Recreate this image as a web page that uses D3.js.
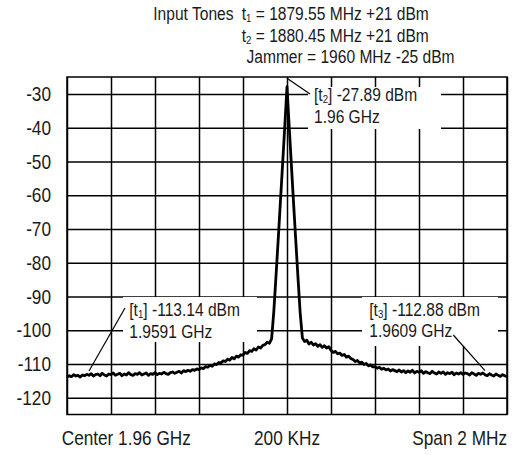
<!DOCTYPE html>
<html>
<head>
<meta charset="utf-8">
<script src="https://cdn.jsdelivr.net/npm/d3@7"></script>
<style>
  body { margin: 0; background: #fff; }
  text { font-family: "Liberation Sans", Arial, sans-serif; fill: #1a1a1a; }
</style>
</head>
<body>
<svg id="chart"></svg>
<script>
// analyzer sweep: one point every 10 kHz from 1959.00 MHz
const sweepStartMHz = 1959.0;
const sweepStepMHz = 0.01;
const traceLevels = [
  -113.9, -113.5, -113.8, -113.2, -113.6, -113.4, -113.9, -113.3, -113.5, -113.1,
  -113.4, -112.9, -113.6, -113.2, -113.0, -113.5, -112.8, -113.3, -113.6, -113.0,
  -113.2, -112.7, -113.4, -113.1, -112.8, -113.5, -113.0, -113.3, -112.6, -113.2,
  -113.4, -112.9, -113.1, -112.6, -113.3, -113.0, -112.7, -113.4, -112.9, -113.1,
  -112.6, -113.2, -112.8, -113.0, -112.5, -112.9, -113.1, -112.6, -112.4, -112.8,
  -112.5, -112.2, -112.7, -112.0, -112.3, -111.9, -112.2, -111.7, -111.9, -111.5,
  -111.7, -111.2, -111.4, -110.8, -111.0, -110.4, -110.7, -110.0, -110.2, -109.6,
  -109.7, -109.1, -109.3, -108.6, -108.9, -108.1, -108.5, -107.7, -108.0, -107.3,
  -107.4, -106.6, -106.9, -106.1, -106.3, -105.5, -105.9, -105.0, -105.3, -104.5,
  -104.3, -103.6, -103.9, -102.6,
  // carrier
  -94.5, -84.0, -73.2, -62.0, -50.8, -39.5, -27.89, -39.8, -51.2, -62.5, -73.6, -84.5, -95.0,
  -102.3, -103.4, -103.0,
  -104.1, -103.6, -104.4, -104.0, -104.8, -104.3, -105.1, -104.6, -105.3, -104.9,
  -106.0, -106.6, -106.3, -107.0, -106.8, -107.5, -107.2, -108.0, -107.7, -108.4,
  -108.7, -109.3, -109.0, -109.7, -109.5, -110.2, -109.9, -110.6, -110.3, -110.9,
  -110.8, -111.3, -111.0, -111.6, -111.3, -111.8, -111.5, -112.1, -111.7, -112.0,
  -112.3, -111.8, -112.4, -112.0, -112.6, -112.1, -112.5, -111.9, -112.7, -112.2,
  -112.5, -112.0, -112.8, -112.3, -112.6, -112.9, -112.2, -112.7, -113.0, -112.4,
  -112.8, -112.4, -113.1, -112.6, -112.9, -112.5, -113.2, -112.7, -113.0, -112.6,
  -113.1, -112.7, -112.9, -113.3, -112.6, -113.0, -113.4, -112.8, -113.1, -112.7,
  -113.2, -113.5, -112.9, -113.3, -113.6, -113.0, -113.4, -113.7, -113.2, -113.5,
  -113.8
];

const yTicks = [-30, -40, -50, -60, -70, -80, -90, -100, -110, -120];
const xGridMHz = [1959.0, 1959.2, 1959.4, 1959.6, 1959.8, 1960.0, 1960.2, 1960.4, 1960.6, 1960.8, 1961.0];
const xLabels = ["Center 1.96 GHz", "200 KHz", "Span 2 MHz"];

const markerNames = ["1", "2", "3"];
const markerFreqMHz = [1959.1, 1960.0, 1960.9];
const markerLevels = [-113.14, -27.89, -112.88];

// "_n" = subscript
const toneHeading = "Input Tones";
const toneLines = ["t_1 = 1879.55 MHz +21 dBm", "t_2 = 1880.45 MHz +21 dBm", "Jammer = 1960 MHz -25 dBm"];

const squeeze = 0.82; // condensed lettering

const svg = d3.select("#chart").attr("width", 522).attr("height", 455);

const x = d3.scaleLinear().domain([1959, 1961]).range([67, 507]);
const y = d3.scaleLinear().domain([-125, -25]).range([414.5, 77]);

const label = (px, py, size, anchor) =>
  svg.append("g")
    .attr("transform", `translate(${px},${py}) scale(${squeeze},1)`)
    .append("text")
    .attr("font-size", size)
    .attr("text-anchor", anchor || "start");

// writes one or more lines into a text, lines given as [string, x offset]
const fillText = (t, lines, lineGap) => {
  lines.forEach((ln, k) => {
    const parts = ln[0].split(/_(\d)/);
    parts.forEach((p, i) => {
      const sp = t.append("tspan");
      if (i === 0) sp.attr("x", ln[1] / squeeze).attr("dy", k === 0 ? 0 : lineGap);
      if (i % 2 === 1) sp.attr("font-size", "0.62em").attr("dy", 2);
      else if (i > 0) sp.attr("dy", -2);
      sp.text(p);
    });
  });
};

// grid
svg.append("g")
  .attr("transform", "translate(67,0)")
  .call(d3.axisLeft(y).tickValues(yTicks).tickSize(-440).tickPadding(16).tickFormat(d => String(d)))
  .call(g => g.select(".domain").remove())
  .call(g => g.selectAll("line").attr("stroke", "#000").attr("stroke-width", 1.5))
  .call(g => g.selectAll("text")
    .attr("fill", "#1a1a1a")
    .attr("font-size", 21)
    .attr("font-family", "Liberation Sans, Arial, sans-serif")
    .attr("x", -16 / squeeze)
    .attr("transform", `scale(${squeeze},1)`));

svg.append("g")
  .attr("transform", "translate(0,414.5)")
  .call(d3.axisBottom(x).tickValues(xGridMHz).tickSize(-337.5).tickFormat(""))
  .call(g => g.select(".domain").remove())
  .call(g => g.selectAll("line").attr("stroke", "#000").attr("stroke-width", 1.5));

// trace
const line = d3.line()
  .x((d, i) => x(sweepStartMHz + i * sweepStepMHz))
  .y(d => y(d));

svg.append("path")
  .datum(traceLevels)
  .attr("d", line)
  .attr("fill", "none")
  .attr("stroke", "#000")
  .attr("stroke-width", 2.8)
  .attr("stroke-linejoin", "round");

// frame
svg.append("rect")
  .attr("x", 67).attr("y", 77).attr("width", 440).attr("height", 337.5)
  .attr("fill", "none").attr("stroke", "#000").attr("stroke-width", 1.5);

// marker read-outs: box, text origin, leader start, leader tip lift
const readout = [
  { box: [123, 297, 134, 45], tx: 129.3, ty: 316, lead: [125, 308], lift: 3.5 },
  { box: [308, 87, 133, 42], tx: 314, ty: 101.2, lead: [310, 94], lift: 8.5 },
  { box: [362, 297, 136, 49], tx: 369.3, ty: 315.5, lead: [453.3, 335], lift: 3 }
];

markerNames.forEach((n, i) => {
  const r = readout[i];
  svg.append("rect")
    .attr("x", r.box[0]).attr("y", r.box[1])
    .attr("width", r.box[2]).attr("height", r.box[3])
    .attr("fill", "#fff");
  fillText(label(r.tx, r.ty, 19), [
    [`[t_${n}] ${markerLevels[i].toFixed(2)} dBm`, 0],
    [`${+(markerFreqMHz[i] / 1000).toFixed(4)} GHz`, 0]
  ], 21.8);
  svg.append("line")
    .attr("x1", r.lead[0]).attr("y1", r.lead[1])
    .attr("x2", x(markerFreqMHz[i])).attr("y2", y(markerLevels[i]) - r.lift)
    .attr("stroke", "#000").attr("stroke-width", 1.2);
});

// input tones
const toneX = [88.4, 88.4, 93.2]; // offsets from the heading
fillText(label(153.3, 20, 19), [[toneHeading + " ", 0]], 0);
fillText(label(153.3, 20, 19), toneLines.map((s, i) => [s, toneX[i]]), 21.7);

// x labels
const xLabelPos = [[61.7, "start"], [287, "middle"], [507, "end"]];
xLabels.forEach((s, i) => fillText(label(xLabelPos[i][0], 445, 21, xLabelPos[i][1]), [[s, 0]], 0));
</script>
</body>
</html>
